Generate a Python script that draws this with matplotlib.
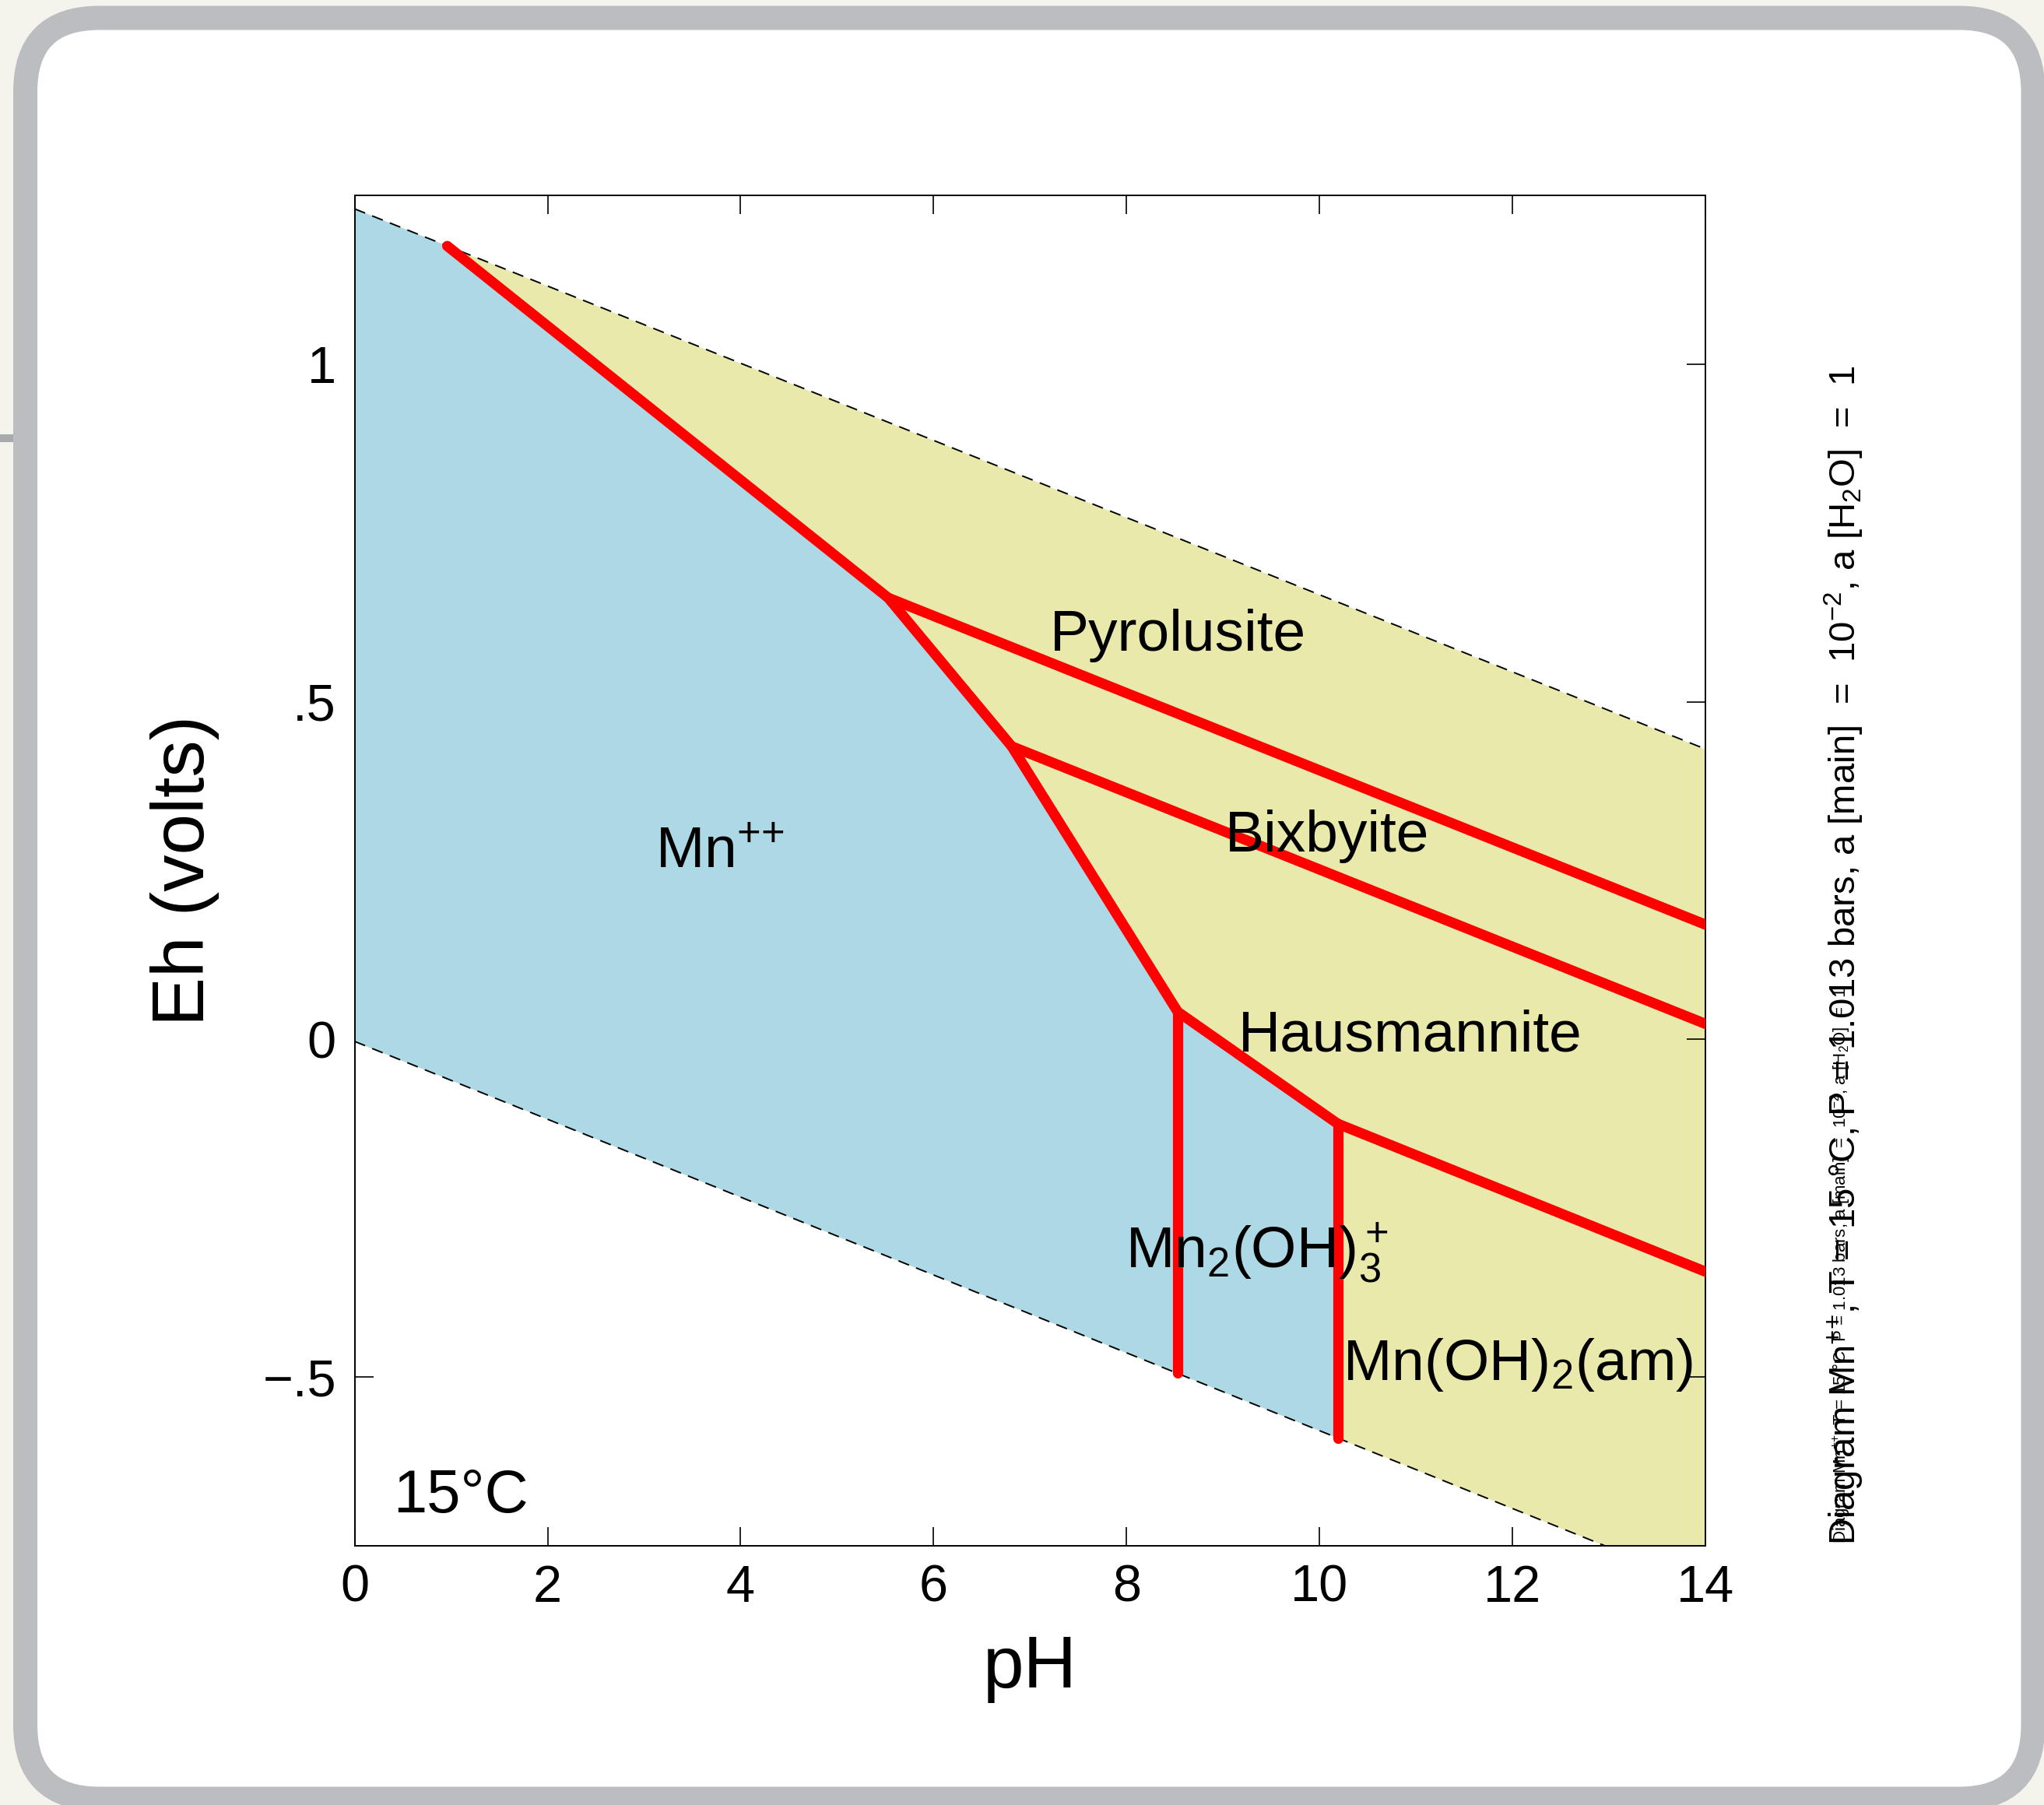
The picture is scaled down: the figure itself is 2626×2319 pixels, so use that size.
import numpy as np
import matplotlib
matplotlib.use('Agg')
import matplotlib.pyplot as plt
from matplotlib.patches import FancyBboxPatch, Rectangle

plt.rcParams['font.family'] = ['Liberation Sans', 'DejaVu Sans']
plt.rcParams['mathtext.fontset'] = 'custom'
plt.rcParams['mathtext.rm'] = 'Liberation Sans'
plt.rcParams['mathtext.it'] = 'Liberation Sans:italic'
plt.rcParams['mathtext.bf'] = 'Liberation Sans:bold'

# water stability limits (pH, Eh)
water_ph = [0, 14]
water_hi = [1.230, 0.430]
water_lo = [-0.003, -0.810]

# Mn++ / Mn2(OH)3+ boundary with the minerals
bnd_ph = [0.96, 5.53, 6.81, 8.53, 10.19]
bnd_eh = [1.175, 0.654, 0.434, 0.041, -0.125]

# other field boundaries
pyro_bix_ph, pyro_bix_eh = [5.53, 14], [0.654, 0.170]
bix_haus_ph, bix_haus_eh = [6.81, 14], [0.434, 0.023]
haus_oh_ph, haus_oh_eh = [10.19, 14], [-0.125, -0.344]
vert1_ph, vert1_eh = [8.53, 8.53], [0.041, -0.494]
vert2_ph, vert2_eh = [10.19, 10.19], [-0.125, -0.591]

# field labels
labels = [r'Mn$^{{+}{+}}$', 'Pyrolusite', 'Bixbyite', 'Hausmannite',
          r'Mn$_2$(OH)$_3^+$', r'Mn(OH)$_2$(am)']
label_ph = [3.12, 7.21, 9.02, 9.16, 7.99, 10.24]
label_eh = [0.254, 0.576, 0.278, -0.017, -0.337, -0.505]

xticks = [0, 2, 4, 6, 8, 10, 12, 14]
yticks = [-0.5, 0, 0.5, 1]
yticklabels = ['\u2212.5', '0', '.5', '1']

side_text = (r'Diagram Mn$^{{+}{+}}$, T = 15 °C, P = 1.013 bars, '
             r'a [main]  =  10$^{-2}$, a [H$_2$O]  =  1')

W, H = 2626, 2319
fig = plt.figure(figsize=(W / 100, H / 100), dpi=100)
fig.patch.set_facecolor('#f4f4ec')

# rounded frame behind everything
bg = fig.add_axes([0, 0, 1, 1])
bg.set_xlim(0, W)
bg.set_ylim(H, 0)
bg.axis('off')
bg.add_patch(FancyBboxPatch((32.5, 23), 2612 - 32.5, 2311 - 23,
                            boxstyle='round,pad=0,rounding_size=95',
                            fc='white', ec='#bcbdc1', lw=31 * 0.72))
bg.add_patch(Rectangle((0, 558), 17, 10, color='#a9aaae', lw=0))

ax = fig.add_axes([455.6 / W, 1 - 1986 / H, (2191 - 455.6) / W, (1986 - 251) / H])

lo_end = np.interp(vert2_ph[0], water_ph, water_lo)
ax.fill_between(water_ph, water_lo, water_hi, color='#e9e9ab', lw=0, zorder=1)
blue_ph = [water_ph[0]] + bnd_ph + [vert2_ph[0], water_ph[0]]
blue_eh = [water_hi[0]] + bnd_eh + [lo_end, water_lo[0]]
ax.fill(blue_ph, blue_eh, color='#add8e6', lw=0, zorder=2)

ax.plot(water_ph, water_hi, color='k', lw=1.4, ls=(0, (7.5, 5)), zorder=3)
ax.plot(water_ph, water_lo, color='k', lw=1.4, ls=(0, (7.5, 5)), zorder=3)

red = dict(color='#ff0000', lw=9.5, solid_capstyle='round', zorder=4)
ax.plot(bnd_ph, bnd_eh, **red)
ax.plot(pyro_bix_ph, pyro_bix_eh, **red)
ax.plot(bix_haus_ph, bix_haus_eh, **red)
ax.plot(haus_oh_ph, haus_oh_eh, **red)
ax.plot(vert1_ph, vert1_eh, **red)
ax.plot(vert2_ph, vert2_eh, **red)

for s, x, y in zip(labels, label_ph, label_eh):
    ax.text(x, y, s, fontsize=54, ha='left', va='baseline', zorder=5)
ax.text(0.40, -0.700, '15°C', fontsize=56, ha='left', va='baseline', zorder=5)

ax.set_xlim(0, 14)
ax.set_ylim(-0.75, 1.25)
ax.set_xticks(xticks)
ax.set_yticks(yticks)
ax.set_yticklabels(yticklabels)
ax.tick_params(direction='in', length=17, width=1.2, top=True, right=True,
               labelsize=48, pad=17)
for sp in ax.spines.values():
    sp.set_linewidth(1.4)
ax.set_xlabel('pH', fontsize=68, labelpad=20)
ax.set_ylabel('Eh (volts)', fontsize=68, labelpad=40)

fig.text(2384 / W, 1 - 1985 / H, side_text, fontsize=34, rotation=90,
         rotation_mode='anchor', ha='left', va='baseline')
fig.text(2371 / W, 1 - 1983 / H, side_text, fontsize=16, rotation=90,
         rotation_mode='anchor', ha='left', va='baseline')

fig.savefig('out.png', dpi=100, facecolor=fig.get_facecolor())
